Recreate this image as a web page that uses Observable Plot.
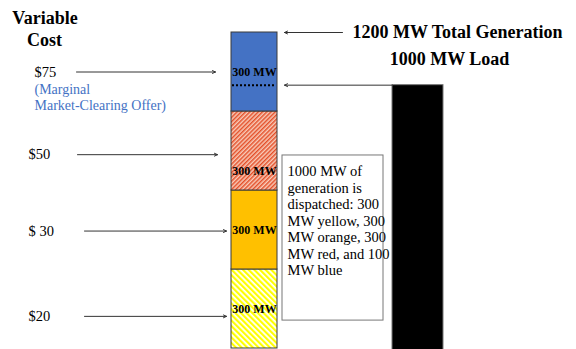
<!DOCTYPE html>
<html><head><meta charset="utf-8">
<script src="https://cdn.jsdelivr.net/npm/d3@7"></script>
<script src="https://cdn.jsdelivr.net/npm/@observablehq/plot@0.6"></script>
<style>body{margin:0;background:#fff} svg{display:block} svg text{font-family:"Liberation Serif","Times New Roman",serif}</style>
</head><body><div id="chart"></div>
<script>
// ---- data ----
const units = ["Yellow", "Orange", "Red", "Blue"];          // dispatch order, bottom to top
const capacityMW = [300, 300, 300, 300];
const costLabels = ["$20", "$ 30", "$50", "$75"];
const costArrowMW = [122, 446, 736, 1050];                  // level (MW) each cost arrow points at
const loadMW = 1000;
const totalMW = 1200;
const headlines = ["1200 MW Total Generation", "1000 MW Load"];
const marginalNote = ["(Marginal", "Market-Clearing Offer)"];
const dispatchNote = "1000 MW of\ngeneration is\ndispatched: 300\nMW yellow, 300\nMW orange, 300\nMW red, and 100\nMW blue";

// ---- derived tables ----
let acc = 0;
const segments = units.map((u, i) => {
  const s = {unit: u, y1: acc, y2: acc + capacityMW[i], label: capacityMW[i] + " MW"};
  acc += capacityMW[i];
  return s;
});
const costs = costLabels.map((c, i) => ({label: c, mw: costArrowMW[i], i}));

// ---- styles ----
const fills = {Yellow: "url(#hatchYellow)", Orange: "#FFC000", Red: "url(#hatchRed)", Blue: "#4472C4"};
const serif = "Liberation Serif";
const labelDy = {Yellow: 0, Orange: 0, Red: 20, Blue: 0};
const arrowStartX = [84, 84, 77, 76];
const arrowEndX = [226, 226, 217, 215];
const labelX = [28, 28, 28, 34];

const plot = Plot.plot({
  width: 576, height: 349, margin: 0,
  x: {domain: [0, 576], range: [0, 576], axis: null},
  y: {domain: [0, totalMW], range: [348, 32], axis: null},
  color: {type: "identity"},
  style: {fontFamily: serif, background: "#fff", overflow: "visible"},
  marks: [
    // load bar
    Plot.rect([loadMW], {x1: 392, x2: 443, y1: -10, y2: d => d, fill: "#000", stroke: "#777", strokeWidth: 1}),
    // generation stack
    Plot.rect(segments, {x1: 231, x2: 277, y1: "y1", y2: "y2", fill: d => fills[d.unit], stroke: "#3a3a3a", strokeWidth: 1}),
    Plot.text(segments.filter(d => labelDy[d.unit] === 0), {x: 254, y: d => (d.y1 + d.y2) / 2, text: "label", fontFamily: serif, fontSize: 12, fontWeight: "bold", fill: "#000"}),
    Plot.text(segments.filter(d => labelDy[d.unit] !== 0), {x: 254, y: d => (d.y1 + d.y2) / 2, text: "label", dy: 20, fontFamily: serif, fontSize: 12, fontWeight: "bold", fill: "#000"}),
    // load level dotted line
    Plot.ruleY([loadMW], {x1: 232, x2: 276, stroke: "#000", strokeWidth: 2, strokeDasharray: "2,2"}),
    // explanation box
    Plot.rect([dispatchNote], {x1: 282, x2: 383, y1: 106, y2: 733, fill: "#fff", stroke: "#777", strokeWidth: 1}),
    Plot.text([dispatchNote], {x: 287, y: 699, text: d => d, textAnchor: "start", lineAnchor: "top", fontFamily: serif, fontSize: 14.5, lineHeight: 1.14, fill: "#000"}),
    // arrows
    Plot.arrow(costs, {x1: d => arrowStartX[d.i], x2: d => arrowEndX[d.i], y1: "mw", y2: "mw", stroke: "#333", strokeWidth: 1, headLength: 5, headAngle: 50}),
    Plot.arrow([totalMW], {x1: 342, x2: 284, y1: d => d, y2: d => d, stroke: "#333", strokeWidth: 1, headLength: 5, headAngle: 50}),
    Plot.arrow([loadMW], {x1: 392, x2: 284, y1: d => d, y2: d => d, stroke: "#333", strokeWidth: 1, headLength: 5, headAngle: 50}),
    // cost labels
    Plot.text(costs, {x: d => labelX[d.i], y: "mw", text: "label", textAnchor: "start", fontFamily: serif, fontSize: 14.5, fill: "#000"}),
    Plot.text(marginalNote, {x: 34, y: (d, i) => [984, 923][i], text: d => d, textAnchor: "start", fontFamily: serif, fontSize: 14, fill: "#4472C4"}),
    // titles
    Plot.text(["Variable", "Cost"], {x: (d, i) => [44.5, 44][i], y: (d, i) => [1253, 1170][i], text: d => d, fontFamily: serif, fontSize: 18, fontWeight: "bold", fill: "#000"}),
    Plot.text(headlines, {x: (d, i) => [457, 449][i], y: (d, i) => [totalMW, 1097][i], text: d => d, fontFamily: serif, fontSize: 18, fontWeight: "bold", fill: "#000"})
  ]
});

d3.select(plot).insert("defs", ":first-child").html(`
  <pattern id="hatchRed" patternUnits="userSpaceOnUse" width="3" height="3" patternTransform="rotate(45)">
    <rect width="3" height="3" fill="#F8CDBB"/><rect width="1.5" height="3" fill="#E4502A"/>
  </pattern>
  <pattern id="hatchYellow" patternUnits="userSpaceOnUse" width="4" height="4" patternTransform="rotate(-45)">
    <rect width="4" height="4" fill="#FFFFFF"/><rect width="2.2" height="4" fill="#FFFF00"/>
  </pattern>`);
document.getElementById("chart").appendChild(plot);
</script></body></html>
